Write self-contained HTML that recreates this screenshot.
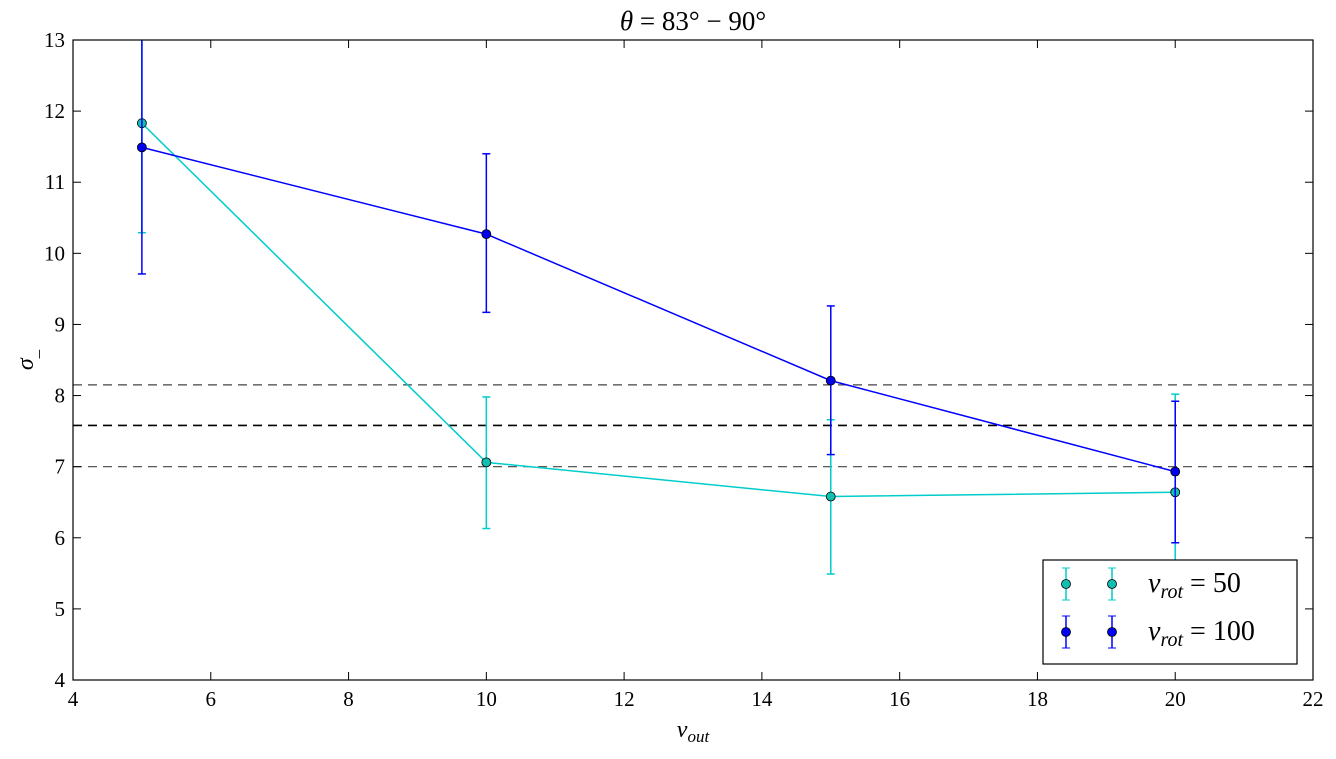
<!DOCTYPE html>
<html><head><meta charset="utf-8"><style>
html,body{margin:0;padding:0;background:#fff;}
svg text{font-family:"Liberation Serif",serif;}
</style></head><body>
<svg id="chart" width="1336" height="754" xmlns="http://www.w3.org/2000/svg">
<rect width="1336" height="754" fill="#fff"/>
<g id="grid"></g>
<g id="series"></g>
<rect x="73" y="40" width="1240" height="640" fill="none" stroke="#000" stroke-width="1.2"/>
<g id="axes"></g>
<text x="693" y="30" font-size="27" text-anchor="middle"><tspan font-style="italic">θ</tspan> = 83° − 90°</text>
<text x="693" y="737" font-size="24" text-anchor="middle" font-style="italic">v<tspan font-size="17" dy="5">out</tspan></text>
<text x="0" y="0" font-size="24" text-anchor="middle" font-style="italic" transform="translate(33,360) rotate(-90)">σ<tspan font-size="17" dy="5">_</tspan></text>
<g>
<rect x="1043" y="560" width="254" height="104" fill="#fff" stroke="#000" stroke-width="1.2"/>
<g id="legend-items"></g>
</g>
</svg>
<script>
const xVals=[5,10,15,20];
const cyanY=[11.83,7.06,6.58,6.64];
const cyanLo=[10.29,6.13,5.49,5.3];
const cyanHi=[13.5,7.98,7.66,8.02];
const blueY=[11.49,10.27,8.21,6.93];
const blueLo=[9.71,9.17,7.17,5.93];
const blueHi=[13.5,11.4,9.26,7.92];
const refLines=[8.15,7.58,7.0];
const xTicks=[4,6,8,10,12,14,16,18,20,22];
const yTicks=[4,5,6,7,8,9,10,11,12,13];
const X0=73,X1=1313,Y0=680,Y1=40;
const sx=v=>X0+(v-4)/(22-4)*(X1-X0);
const sy=v=>Y0-(v-4)/(13-4)*(Y0-Y1);
const NS="http://www.w3.org/2000/svg";
function mk(p,tag,attrs){const e=document.createElementNS(NS,tag);for(const k in attrs)e.setAttribute(k,attrs[k]);p.appendChild(e);return e;}
const grid=document.getElementById('grid'),ser=document.getElementById('series'),axes=document.getElementById('axes');
refLines.forEach((v,i)=>{const l=mk(grid,'line',{x1:X0,x2:X1,y1:sy(v),y2:sy(v),stroke:i==1?'#000':'#444','stroke-width':i==1?1.6:1.2,'stroke-dasharray':'9,6'});

});
const clip=mk(ser,'clipPath',{id:'pc'});mk(clip,'rect',{x:X0,y:Y1,width:X1-X0,height:Y0-Y1});
const g=mk(ser,'g',{'clip-path':'url(#pc)'});
function series(ys,lo,hi,color,name){
  const pl=mk(g,'polyline',{points:xVals.map((x,i)=>sx(x)+','+sy(ys[i])).join(' '),fill:'none',stroke:color,'stroke-width':1.5});
  
  
  xVals.forEach((x,i)=>{
    const eb=mk(g,'g',{stroke:color,'stroke-width':1.5});
    
    
    mk(eb,'line',{x1:sx(x),x2:sx(x),y1:sy(lo[i]),y2:sy(hi[i])});
    mk(eb,'line',{x1:sx(x)-4,x2:sx(x)+4,y1:sy(lo[i]),y2:sy(lo[i])});
    mk(eb,'line',{x1:sx(x)-4,x2:sx(x)+4,y1:sy(hi[i]),y2:sy(hi[i])});
  });
  xVals.forEach((x,i)=>{const c=mk(g,'circle',{cx:sx(x),cy:sy(ys[i]),r:4.5,fill:color=='#00cccc'?'#10bfb0':'#0000ee',stroke:'#000','stroke-width':0.8});
  
  });
}
series(cyanY,cyanLo,cyanHi,'#00cccc','vrot-50');
series(blueY,blueLo,blueHi,'#0000ff','vrot-100');
xTicks.forEach(v=>{const x=sx(v);
  mk(axes,'line',{x1:x,x2:x,y1:Y0,y2:Y0-8,stroke:'#000'});mk(axes,'line',{x1:x,x2:x,y1:Y1,y2:Y1+8,stroke:'#000'});
  const t=mk(axes,'text',{x:x,y:Y0+26,'font-size':21,'text-anchor':'middle'});t.textContent=v;
  
  });
yTicks.forEach(v=>{const y=sy(v);
  mk(axes,'line',{x1:X0,x2:X0+8,y1:y,y2:y,stroke:'#000'});mk(axes,'line',{x1:X1,x2:X1-8,y1:y,y2:y,stroke:'#000'});
  const t=mk(axes,'text',{x:X0-8,y:y+7,'font-size':21,'text-anchor':'end'});t.textContent=v;
  
  });
const li=document.getElementById('legend-items');
[['#00cccc','#10bfb0','50',584],['#0000ff','#0000ee','100',632]].forEach(([c,f,lab,y])=>{
  const it=mk(li,'g',{});
  
  
  [1066,1112].forEach(x=>{mk(it,'line',{x1:x,x2:x,y1:y-16,y2:y+16,stroke:c,'stroke-width':1.5});
    mk(it,'line',{x1:x-4,x2:x+4,y1:y-16,y2:y-16,stroke:c});mk(it,'line',{x1:x-4,x2:x+4,y1:y+16,y2:y+16,stroke:c});
    mk(it,'circle',{cx:x,cy:y,r:4.5,fill:f,stroke:'#000','stroke-width':0.8});});
  const t=mk(it,'text',{x:1148,y:y+8,'font-size':28});
  t.innerHTML='<tspan font-style="italic">v</tspan><tspan font-style="italic" font-size="20" dy="6">rot</tspan><tspan dy="-6"> = '+lab+'</tspan>';
});
</script>
</body></html>
